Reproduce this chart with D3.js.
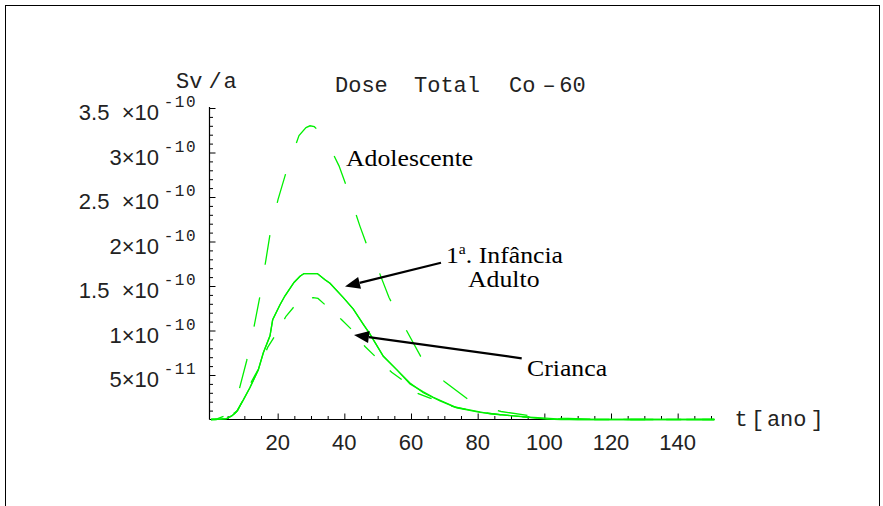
<!DOCTYPE html>
<html>
<head>
<meta charset="utf-8">
<script src="https://cdn.jsdelivr.net/npm/d3@7/dist/d3.min.js"></script>
<style>
  html, body { margin: 0; padding: 0; background: #fff; }
  svg { display: block; }
</style>
</head>
<body>
<svg id="chart" width="883" height="506"></svg>
<script>
// Time axis (years) and dose rate (Sv/a) for Co-60, one array pair per age group
const tAdolescente = [0, 2, 4, 6, 8.4, 10.7, 12.9, 14.6, 16.5, 17.7, 20.1, 22.7, 26.4, 28.5, 29.7, 31, 32.9, 35.5, 38.4, 41.5, 44.7, 47.9, 50.4, 53.4, 58.5, 62.9, 66.5, 70.2, 77, 82, 87, 96, 105, 115, 125, 151];
const vAdolescente = [0, 0.01e-10, 0.04e-10, 0.13e-10, 0.33e-10, 0.66e-10, 1.04e-10, 1.37e-10, 1.80e-10, 2.08e-10, 2.47e-10, 2.80e-10, 3.19e-10, 3.28e-10, 3.30e-10, 3.29e-10, 3.22e-10, 3.07e-10, 2.85e-10, 2.53e-10, 2.17e-10, 1.84e-10, 1.66e-10, 1.37e-10, 1.01e-10, 0.71e-10, 0.55e-10, 0.42e-10, 0.23e-10, 0.14e-10, 0.09e-10, 0.04e-10, 0.015e-10, 0.004e-10, 0, 0];

const tInfancia = [0, 1.2, 4.7, 6.2, 7.2, 7.7, 9.7, 11.7, 14.2, 15.7, 17.7, 18.5, 20.7, 22.2, 24.9, 26.7, 27.9, 31.9, 34.2, 35.7, 39.7, 42.7, 45.7, 47.7, 51.7, 55.7, 59.7, 63.7, 68.7, 73.7, 80.7, 90.6, 100.8, 105, 151];
const vInfancia = [0, 0, 0.01e-10, 0.04e-10, 0.07e-10, 0.09e-10, 0.22e-10, 0.36e-10, 0.56e-10, 0.75e-10, 0.94e-10, 1.12e-10, 1.29e-10, 1.39e-10, 1.54e-10, 1.61e-10, 1.64e-10, 1.64e-10, 1.57e-10, 1.53e-10, 1.37e-10, 1.24e-10, 1.07e-10, 0.96e-10, 0.71e-10, 0.56e-10, 0.41e-10, 0.30e-10, 0.21e-10, 0.13e-10, 0.08e-10, 0.04e-10, 0.005e-10, 0, 0];

const tAdulto = [0, 1.2, 4.7, 6.2, 7.2, 7.7, 9.7, 11.7, 14.2, 15.7, 17.7, 18.5, 20.7, 22.2, 24.9, 26.7, 27.9, 31.9, 34.2, 35.7, 39.7, 42.7, 45.7, 47.7, 51.7, 55.7, 59.7, 63.7, 66.7, 73.3, 83.7, 95.7, 105, 110, 151];
const vAdulto = [0, 0, 0.01e-10, 0.04e-10, 0.07e-10, 0.09e-10, 0.22e-10, 0.36e-10, 0.56e-10, 0.75e-10, 0.94e-10, 1.12e-10, 1.29e-10, 1.39e-10, 1.54e-10, 1.61e-10, 1.64e-10, 1.64e-10, 1.57e-10, 1.53e-10, 1.37e-10, 1.24e-10, 1.07e-10, 0.96e-10, 0.71e-10, 0.56e-10, 0.40e-10, 0.31e-10, 0.25e-10, 0.14e-10, 0.064e-10, 0.026e-10, 0.005e-10, 0, 0];

const tCrianca = [0, 3, 5, 8, 10, 12.2, 14.7, 17, 19.5, 22.5, 25.2, 28, 30.7, 32.1, 34.5, 36.8, 39.2, 42.2, 46.2, 49.5, 54.2, 57.5, 62.2, 65.7, 72, 80, 90, 100, 110, 151];
const vCrianca = [0, 0.005e-10, 0.02e-10, 0.1e-10, 0.25e-10, 0.43e-10, 0.60e-10, 0.81e-10, 0.96e-10, 1.16e-10, 1.28e-10, 1.34e-10, 1.37e-10, 1.36e-10, 1.28e-10, 1.21e-10, 1.12e-10, 1.01e-10, 0.82e-10, 0.70e-10, 0.53e-10, 0.44e-10, 0.29e-10, 0.24e-10, 0.15e-10, 0.085e-10, 0.04e-10, 0.012e-10, 0, 0];

// Axis ticks and labels
const xMajorTicks = [20, 40, 60, 80, 100, 120, 140];
const xMinorTicks = [5, 10, 15, 25, 30, 35, 45, 50, 55, 65, 70, 75, 85, 90, 95, 105, 110, 115, 125, 130, 135, 145, 150];
const yMajorTicks = [0.5e-10, 1e-10, 1.5e-10, 2e-10, 2.5e-10, 3e-10, 3.5e-10];
const yMantissa = ["5", "1", "1.5  ", "2", "2.5  ", "3", "3.5  "];
const yExponent = ["-11", "-10", "-10", "-10", "-10", "-10", "-10"];
const yMinorTicks = [0.1e-10, 0.2e-10, 0.3e-10, 0.4e-10, 0.6e-10, 0.7e-10, 0.8e-10, 0.9e-10,
  1.1e-10, 1.2e-10, 1.3e-10, 1.4e-10, 1.6e-10, 1.7e-10, 1.8e-10, 1.9e-10,
  2.1e-10, 2.2e-10, 2.3e-10, 2.4e-10, 2.6e-10, 2.7e-10, 2.8e-10, 2.9e-10,
  3.1e-10, 3.2e-10, 3.3e-10, 3.4e-10];

const svg = d3.select("#chart");
const GREEN = "#00f000";
const MONO = "'Liberation Mono', 'DejaVu Sans Mono', monospace";
const SANS = "'Liberation Sans', Arial, sans-serif";
const SERIF = "'Liberation Serif', 'Times New Roman', serif";

// outer frame
svg.append("rect")
  .attr("x", 5.5).attr("y", 5.5).attr("width", 874).attr("height", 520)
  .attr("fill", "none").attr("stroke", "#000").attr("stroke-width", 1);

const x = d3.scaleLinear().domain([0, 150]).range([211, 711]);
const y = d3.scaleLinear().domain([0, 3.5e-10]).range([419.5, 108]);
const axisX0 = 209.5, axisY0 = 419.5;

// y axis: ticks point into the plot
const gy = svg.append("g").attr("transform", `translate(${axisX0},0)`);
gy.call(d3.axisRight(y).tickValues(yMinorTicks).tickSize(3.5).tickFormat(""));
gy.select(".domain").remove();
const gyMaj = svg.append("g").attr("transform", `translate(${axisX0},0)`);
gyMaj.call(d3.axisRight(y).tickValues(yMajorTicks).tickSize(6).tickFormat(""));
gyMaj.select(".domain").remove();
svg.append("line").attr("x1", axisX0).attr("x2", axisX0).attr("y1", 107).attr("y2", axisY0)
  .attr("stroke", "#000").attr("stroke-width", 1.2);

// x axis: ticks point up, labels below
const gx = svg.append("g").attr("transform", `translate(0,${axisY0})`);
gx.call(d3.axisTop(x).tickValues(xMinorTicks).tickSize(3.5).tickFormat(""));
gx.select(".domain").remove();
const gxMaj = svg.append("g").attr("transform", `translate(0,${axisY0})`);
gxMaj.call(d3.axisTop(x).tickValues(xMajorTicks).tickSize(6).tickFormat(""));
gxMaj.select(".domain").remove();
svg.append("line").attr("x1", axisX0).attr("x2", x(151)).attr("y1", axisY0).attr("y2", axisY0)
  .attr("stroke", "#000").attr("stroke-width", 1.2);
svg.selectAll("g.tick line").attr("stroke", "#000");

svg.append("g").selectAll("text").data(xMajorTicks).join("text")
  .attr("x", d => x(d)).attr("y", axisY0 + 30.5)
  .attr("text-anchor", "middle")
  .attr("font-family", SANS).attr("font-size", 22).attr("fill", "#222")
  .text(d => d);

// y tick labels: mantissa ×10 with exponent
const yl = svg.append("g").selectAll("g").data(yMajorTicks).join("g");
yl.append("text")
  .attr("x", 159).attr("y", d => y(d) + 12)
  .attr("text-anchor", "end")
  .attr("font-family", SANS).attr("font-size", 22).attr("fill", "#222")
  .style("white-space", "pre")
  .text((d, i) => yMantissa[i] + "\u00d710");
yl.append("text")
  .attr("x", 197).attr("y", d => y(d) - 1)
  .attr("text-anchor", "end")
  .attr("font-family", MONO).attr("font-size", 16).attr("letter-spacing", 1.5)
  .attr("fill", "#222")
  .text((d, i) => yExponent[i]);

// axis titles and plot title
const mono = (txt, cx, by, anchor) => svg.append("text")
  .attr("x", cx).attr("y", by).attr("text-anchor", anchor || "start")
  .attr("font-family", MONO).attr("font-size", 22).attr("fill", "#222").text(txt);
mono("Sv", 176, 88);
mono("/", 215, 88, "middle");
mono("a", 230, 88, "middle");
mono("Dose", 335, 92);
mono("Total", 414, 92);
mono("Co", 509, 92);
mono("\u2013", 549, 92, "middle");
mono("60", 572.5, 92, "middle");
mono("t", 741, 426, "middle");
mono("[", 757.5, 426, "middle");
mono("ano", 786.7, 426, "middle");
mono("]", 817, 426, "middle");

// curves
const line = d3.line().x(d => x(d[0])).y(d => y(d[1]));
const series = [
  { t: tAdolescente, v: vAdolescente, dash: "30,33", offset: 17 },
  { t: tInfancia, v: vInfancia, dash: null, offset: 0 },
  { t: tAdulto, v: vAdulto, dash: null, offset: 0 },
  { t: tCrianca, v: vCrianca, dash: "15,21", offset: 12 }
];
svg.append("g").selectAll("path").data(series).join("path")
  .attr("d", s => line(s.t.map((t, i) => [t, s.v[i]])))
  .attr("fill", "none")
  .attr("stroke", GREEN)
  .attr("stroke-width", 1.3)
  .attr("stroke-dasharray", s => s.dash)
  .attr("stroke-dashoffset", s => s.offset);

// annotations
const label = (parts, tx, ty) => {
  const t = svg.append("text")
    .attr("transform", `translate(${tx},${ty}) scale(1.12,1)`)
    .attr("font-family", SERIF).attr("font-size", 23).attr("fill", "#000");
  parts.forEach(p => {
    const ts = t.append("tspan").text(p.s);
    if (p.size) ts.attr("font-size", p.size);
    if (p.dy) ts.attr("dy", p.dy);
  });
  return t;
};
label([{ s: "Adolescente" }], 346, 166);
label([{ s: "1" }, { s: "a", size: 14, dy: -9 }, { s: ". Infância", dy: 9 }], 446, 263);
label([{ s: "Adulto" }], 468, 287);
label([{ s: "Crianca" }], 527, 376);

// arrows from labels to curves
const arrow = (x1, y1, x2, y2) => {
  const dx = x2 - x1, dy = y2 - y1, len = Math.hypot(dx, dy);
  const ux = dx / len, uy = dy / len, hl = 15, hw = 6;
  const bx = x2 - ux * hl, by = y2 - uy * hl;
  svg.append("line").attr("x1", x1).attr("y1", y1).attr("x2", bx).attr("y2", by)
    .attr("stroke", "#000").attr("stroke-width", 2.2);
  svg.append("polygon")
    .attr("points", [[x2, y2], [bx - uy * hw, by + ux * hw], [bx + uy * hw, by - ux * hw]].map(p => p.join(",")).join(" "))
    .attr("fill", "#000");
};
arrow(441, 262.7, 345, 286.5);
arrow(521.7, 358.3, 354, 335);
</script>
</body>
</html>
